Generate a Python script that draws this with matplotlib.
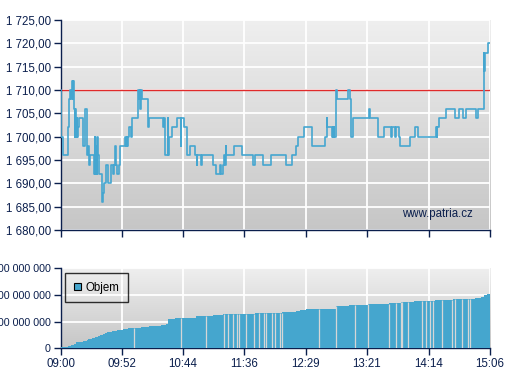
import numpy as np
import matplotlib
matplotlib.use("Agg")
import matplotlib.pyplot as plt

# ---------------- data ----------------
# price trades: minutes after 09:00, price (step-post)
price_minutes = [0, 0.5, 2.2, 5.8, 7.5, 8.3, 9.2, 9.6, 10.2, 10.7, 11.3, 11.8, 12.2, 12.6, 13.0,
                 13.6, 14.1, 14.7, 15.8, 19.0, 21.1, 22.4, 22.8, 23.7, 24.1, 24.9, 28.3, 28.9,
                 29.4, 30.0, 30.6, 31.1, 31.7, 32.8, 35.1, 35.7, 37.1, 38.3, 40.5, 42.6, 44.8,
                 45.4, 46.5, 47.3, 48.2, 49.9, 50.5, 54.7, 55.6, 56.2, 56.7, 57.3, 58.1, 59.8,
                 60.9, 66.0, 66.6, 67.2, 67.5, 68.3, 69.4, 74.6, 75.4, 87.3, 87.9, 88.5, 89.3,
                 91.1, 91.6, 92.4, 95.0, 99.2, 102.4, 102.6, 105.2, 108.1, 110.0, 114.3, 116.0,
                 116.6, 119.4, 120.5, 129.9, 132.8, 135.6, 136.4, 138.4, 139.0, 139.8, 140.7,
                 141.1, 147.8, 154.6, 164.0, 165.7, 172.5, 179.0, 191.8, 197.4, 200.9, 202.2,
                 207.1, 214.1, 225.2, 226.9, 227.2, 231.2, 231.8, 232.3, 232.8, 233.2, 234.6,
                 235.2, 244.8, 246.3, 247.3, 249.0, 262.6, 263.3, 270.3, 275.4, 281.7, 282.8,
                 284.9, 285.9, 288.2, 289.4, 298.1, 302.1, 304.4, 320.0, 320.7, 321.1, 322.3,
                 328.5, 336.2, 339.9, 342.7, 345.9, 354.1, 355.5, 360.6, 361.2, 361.7, 364.1, 366.0]
price_values = [1710, 1700, 1696, 1702, 1708, 1710, 1708, 1712, 1708, 1712, 1706, 1704, 1700, 1706, 1700,
                1704, 1700, 1702, 1704, 1698, 1706, 1700, 1696, 1698, 1694, 1696, 1692, 1700,
                1692, 1698, 1692, 1700, 1696, 1692, 1686, 1688, 1690, 1694, 1690, 1694, 1692,
                1694, 1698, 1694, 1692, 1694, 1698, 1700, 1698, 1700, 1698, 1700, 1702, 1700,
                1704, 1710, 1708, 1710, 1706, 1710, 1708, 1702, 1704, 1702, 1704, 1702, 1696,
                1704, 1696, 1700, 1702, 1704, 1698, 1704, 1702, 1696, 1698, 1696, 1694,
                1696, 1694, 1696, 1694, 1692, 1694, 1692, 1694, 1696, 1694, 1698,
                1696, 1698, 1696, 1694, 1696, 1694, 1696, 1694, 1696, 1698, 1700,
                1702, 1698, 1700, 1704, 1702, 1700, 1702, 1700, 1702, 1700, 1710,
                1708, 1710, 1708, 1700, 1704, 1706, 1704, 1700, 1702, 1700, 1702,
                1700, 1702, 1700, 1698, 1700, 1702, 1700, 1702, 1700, 1702, 1704,
                1706, 1704, 1706, 1704, 1706, 1704, 1706, 1718, 1714, 1718, 1720, 1720]
reference_price = 1710

# cumulative volume: minutes after 09:00, cumulative volume (millions)
vol_minutes = [0, 6.5, 8.8, 11.3, 13.0, 19.0, 22.4, 23.2, 26.6, 29.2, 31.7, 33.4, 36.0, 37.7,
               39.4, 43.7, 47.9, 53.0, 57.3, 62.8, 68.3, 75.1, 85.4, 89.6, 91.3, 97.2, 102.4,
               115.1, 125.3, 129.6, 138.1, 165.4, 188.9, 192.8, 200.3, 203.7, 208.8, 234.9,
               245.4, 261.8, 280.3, 290.2, 296.7, 301.5, 319.4, 334.1, 353.4, 358.3, 361.1,
               363.1]
vol_values = [4, 8, 12, 18, 24, 26, 30, 34, 38, 41, 45, 49, 54, 59,
              62, 65, 69, 71, 75, 78, 81, 85, 88, 93, 109, 112, 115,
              120, 122, 125, 129, 133, 135, 138, 141, 144, 148, 159,
              163, 166, 170, 173, 175, 178, 181, 185, 190, 194, 201,
              205]
vol_values = [v * 1e6 for v in vol_values]
vol_end = 366.0
# small-volume trades visible as thin breaks between bars
vol_break_minutes = [62.6, 102.4, 123.7, 139.0, 142.6, 146.9, 150.6, 152.0, 158.3, 164.5, 169.0,
                     173.3, 174.7, 180.4, 182.4, 186.6, 188.3, 220.1, 234.9, 251.3, 261.8,
                     279.7, 286.0, 290.2, 291.1, 295.8, 308.1, 311.5, 314.9, 317.1, 325.1,
                     333.6, 336.4, 342.1, 346.9, 349.2]

tick_minutes = [0, 52, 104, 156, 209, 261, 314, 366]
tick_labels = ["09:00", "09:52", "10:44", "11:36", "12:29", "13:21", "14:14", "15:06"]
price_ticks = [1680, 1685, 1690, 1695, 1700, 1705, 1710, 1715, 1720, 1725]
vol_ticks = [0, 100e6, 200e6, 300e6]

# ---------------- style ----------------
NAVY = "#0b1f4d"
BLUE = "#45a6d0"
BAR = "#45a6ce"
plt.rcParams['font.family'] = ['Liberation Sans', 'DejaVu Sans']

fig = plt.figure(figsize=(5.07, 3.80), dpi=100)
fig.patch.set_facecolor("white")

W, H = 507, 380
def rect(x0, y0, x1, y1):
    return [x0 / W, 1 - y1 / H, (x1 - x0) / W, (y1 - y0) / H]

ax1 = fig.add_axes(rect(60.7, 20, 490, 230))
ax2 = fig.add_axes(rect(60.7, 268.3, 490, 348.3))

def gradient(ax, top="#efefef", bottom="#c6c6c6"):
    c0 = np.array(matplotlib.colors.to_rgb(top))
    c1 = np.array(matplotlib.colors.to_rgb(bottom))
    g = np.linspace(0, 1, 256)[:, None]
    img = c0[None, None, :] * (1 - g[..., None]) + c1[None, None, :] * g[..., None]
    ax.imshow(img, extent=[0, 1, 0, 1], transform=ax.transAxes, aspect='auto',
              zorder=-10, interpolation='bilinear')

def fmt_thousands(v, dec):
    s = f"{v:,.{dec}f}"
    return s.replace(",", " ").replace(".", ",")

for ax in (ax1, ax2):
    ax.set_facecolor("none")
    gradient(ax)
    for s in ("top", "right"):
        ax.spines[s].set_visible(False)
    for s in ("left", "bottom"):
        ax.spines[s].set_color(NAVY)
        ax.spines[s].set_linewidth(1.0)
    ax.set_xlim(0, 366)
    ax.set_xticks(tick_minutes)
    ax.tick_params(axis='both', colors=NAVY, labelcolor=NAVY, labelsize=8.3,
                   length=5, width=1.0, direction='out', pad=2)
    ax.grid(True, color="white", linewidth=1.3, zorder=0)
    ax.set_axisbelow(True)

# price panel
ax1.set_ylim(1680, 1725)
ax1.set_yticks(price_ticks)
ax1.set_yticklabels([fmt_thousands(p, 2) for p in price_ticks])
ax1.set_xticklabels([])
ax1.step(price_minutes, price_values, where='post', color=BLUE, linewidth=1.2, zorder=3)
ax1.axhline(reference_price, color="#e02a2a", linewidth=1.0, zorder=2)
ax1.text(0.96, 0.075, "www.patria.cz", transform=ax1.transAxes, ha='right', va='center',
         color=NAVY, fontsize=8.3)

# volume panel
widths = np.diff(vol_minutes + [vol_end])
ax2.bar(vol_minutes, vol_values, width=widths, align='edge', color=BAR, edgecolor='none',
        linewidth=0, zorder=3, label="Objem")
vm = np.array(vol_minutes)
vv = np.array(vol_values)
for b in vol_break_minutes:
    idx = np.searchsorted(vm, b, side='right') - 1
    ax2.vlines(b, 0, vv[max(idx, 0)], color="#d6d6d6", linewidth=0.9, zorder=4)
ax2.set_ylim(0, 300e6)
ax2.set_yticks(vol_ticks)
ax2.set_yticklabels([fmt_thousands(v, 0) for v in vol_ticks])
ax2.tick_params(axis='y', labelsize=7.7)
ax2.set_xticklabels(tick_labels)
leg = ax2.legend(loc='upper left', bbox_to_anchor=(0.01, 0.94), borderaxespad=0,
                 frameon=True, fancybox=False,
                 fontsize=8.3, handlelength=0.6, handleheight=0.6, handletextpad=0.4,
                 borderpad=0.75, labelcolor="black")
leg.get_frame().set_edgecolor("black")
leg.get_frame().set_facecolor("none")
leg.get_frame().set_linewidth(1.0)
for h in leg.legend_handles:
    h.set_edgecolor("black")
    h.set_linewidth(0.8)

fig.savefig("out.png", dpi=100)
